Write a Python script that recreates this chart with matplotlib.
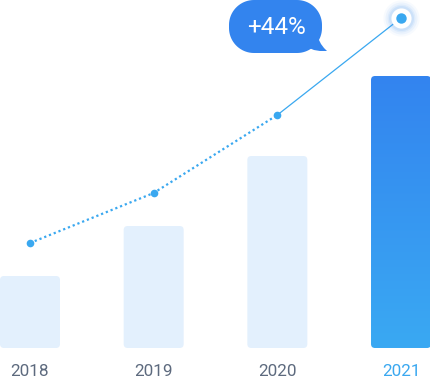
import matplotlib
matplotlib.use("Agg")
import matplotlib.pyplot as plt
import numpy as np
from matplotlib.patches import FancyBboxPatch, Polygon
from matplotlib.colors import LinearSegmentedColormap

years = ["2018", "2019", "2020", "2021"]
bar_values = [72, 122, 192, 272]
line_values = [105, 155, 233, 330]
growth_label = "+44%"

plt.rcParams['font.family'] = ['Roboto', 'DejaVu Sans']

W, H = 431, 379
fig = plt.figure(figsize=(W / 100, H / 100), dpi=100)
ax = fig.add_axes([0, 0, 1, 1])
xpx = 123.67  # px per x unit
ax.set_xlim(-30 / xpx, (W - 30) / xpx)
ax.set_ylim(-31, H - 31)
ax.axis('off')

x = np.arange(len(years))
width = 60 / xpx
bars = ax.bar(x, bar_values, width=width, color='none')
aspect = xpx
r = 4 / xpx
cmap = LinearSegmentedColormap.from_list('g', ['#3aa9f3', '#3384ef'])
for i, b in enumerate(bars):
    x0, y0 = b.get_x(), b.get_y()
    w, h = b.get_width(), b.get_height()
    b.set_visible(False)
    if i < len(years) - 1:
        p = FancyBboxPatch((x0, y0), w, h, boxstyle=f"round,pad=0,rounding_size={r}",
                           mutation_aspect=aspect, fc='#e3f0fd', ec='none', zorder=1)
        ax.add_patch(p)
    else:
        p = FancyBboxPatch((x0, y0), w, h, boxstyle=f"round,pad=0,rounding_size={r}",
                           mutation_aspect=aspect, fc='none', ec='none', zorder=1)
        ax.add_patch(p)
        grad = np.linspace(0, 1, 256).reshape(-1, 1)
        im = ax.imshow(grad, cmap=cmap, extent=(x0, x0 + w, y0, y0 + h), origin='lower',
                       aspect='auto', zorder=1)
        im.set_clip_path(p)

lc = '#3aa8f0'
ax.plot(x[:3], line_values[:3], ls=(0, (1, 1.3)), lw=1.6, color=lc, zorder=3)
ax.plot(x[2:], line_values[2:], ls='-', lw=0.9, color=lc, zorder=3)
ax.plot(x[:3], line_values[:3], 'o', ms=5.5, color=lc, mec='none', zorder=4)
for ms, a in [(26, 0.04), (23, 0.06), (20, 0.08), (18, 0.1)]:
    ax.plot(x[3], line_values[3], 'o', ms=ms, color='#3a8ef0', alpha=a, mec='none', zorder=4)
ax.plot(x[3], line_values[3], 'o', ms=14.5, color='white', mec='none', zorder=5)
ax.plot(x[3], line_values[3], 'o', ms=7.5, color=lc, mec='none', zorder=6)

for i, yr in enumerate(years):
    ax.text(x[i], -23, yr, ha='center', va='center', fontsize=12.3,
            color='#3aa8f0' if i == len(years) - 1 else '#5d6a7e')

# speech bubble in pixel coordinates overlay
ov = fig.add_axes([0, 0, 1, 1], facecolor='none')
ov.set_xlim(0, W)
ov.set_ylim(H, 0)
ov.axis('off')
bc = '#3384ee'

def rounded_rect(x0, y0, x1, y1, rad, n=20):
    pts = []
    corners = [(x1 - rad, y0 + rad, -90, 0), (x1 - rad, y1 - rad, 0, 90),
               (x0 + rad, y1 - rad, 90, 180), (x0 + rad, y0 + rad, 180, 270)]
    for cx, cy, a0, a1 in corners:
        t = np.radians(np.linspace(a0, a1, n))
        pts += list(zip(cx + rad * np.cos(t), cy + rad * np.sin(t)))
    return pts

ov.add_patch(Polygon(rounded_rect(229, 0, 322, 53, 25), closed=True, fc=bc, ec='none', zorder=5))
tail = Polygon([(309, 48), (318, 38), (321, 44), (324, 48), (327, 51), (320, 51), (314, 50)],
               closed=True, fc=bc, ec='none', zorder=5)
ov.add_patch(tail)
ov.text(276.5, 27, growth_label, color='white', fontsize=17.5, fontweight='normal',
        ha='center', va='center', zorder=6)

fig.savefig('out.png', dpi=100)
